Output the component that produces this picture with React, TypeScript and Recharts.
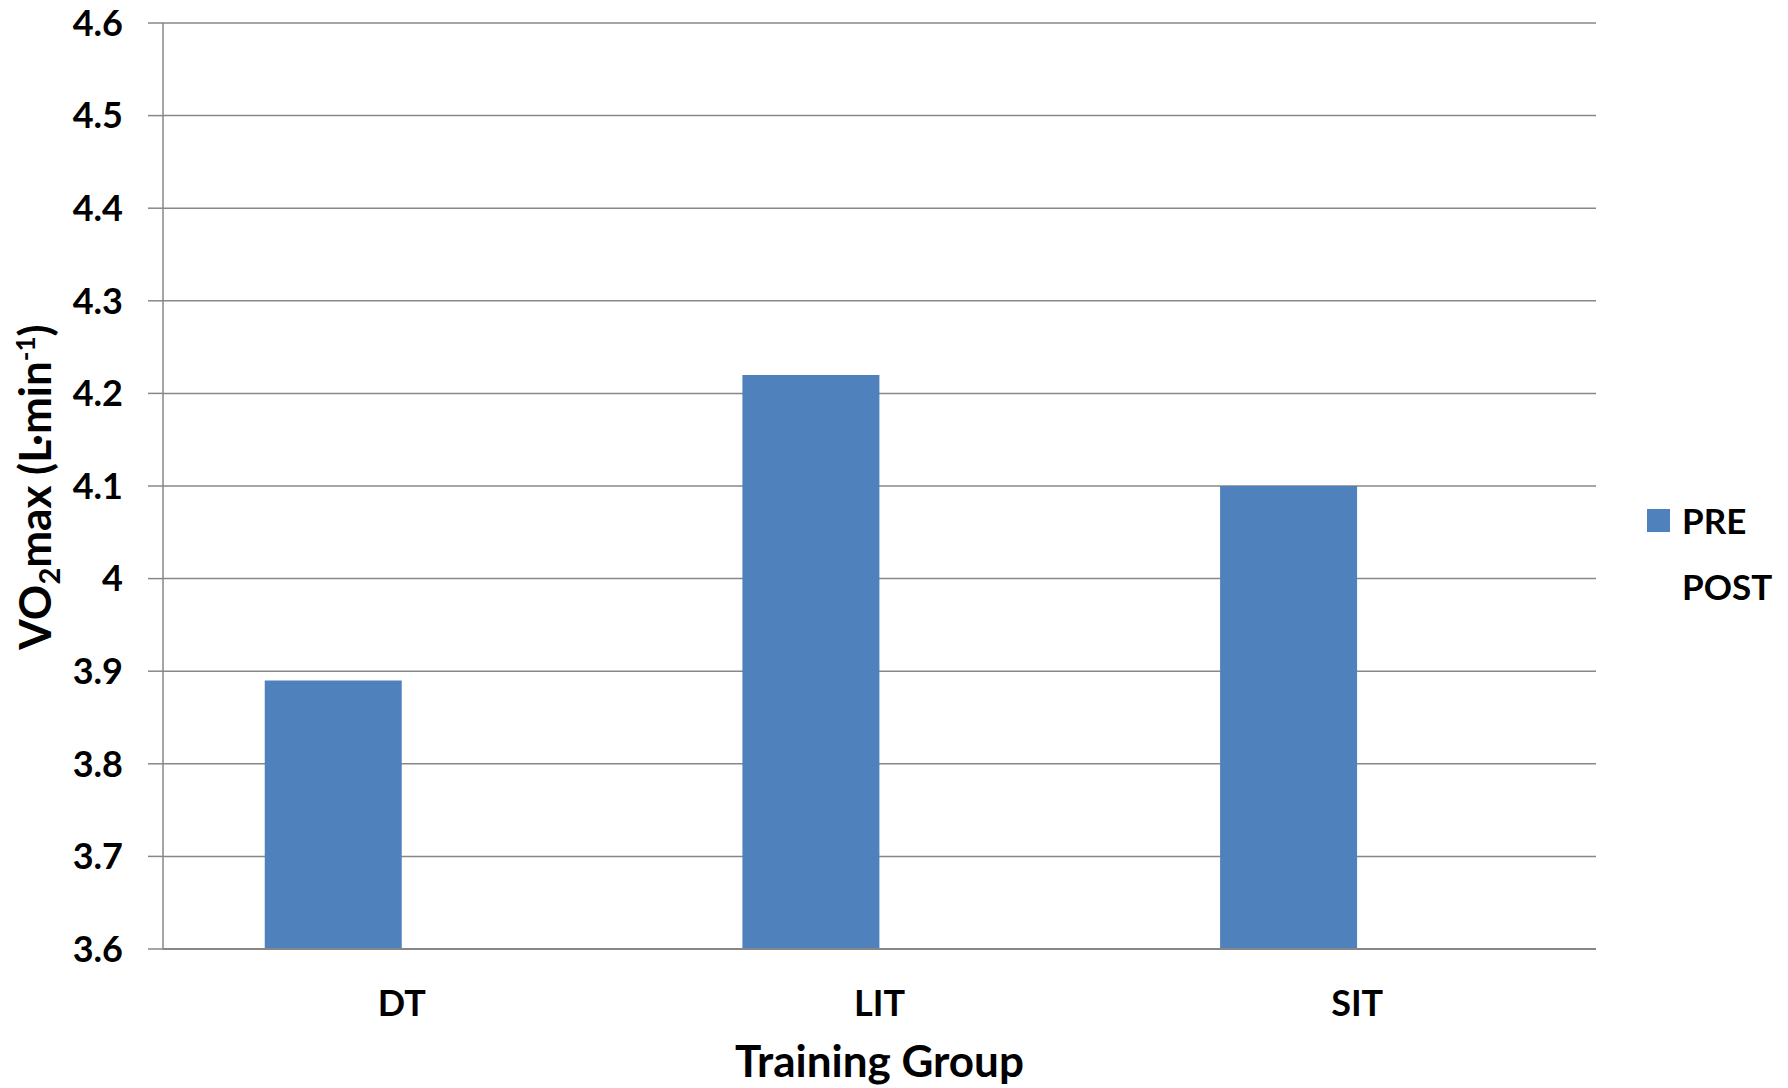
import React from "react";
import { BarChart, Bar, XAxis, YAxis, CartesianGrid, Legend, Label } from "recharts";

// Training groups and VO2max values (L/min)
const groups = ["DT", "LIT", "SIT"];
const preValues = [3.89, 4.22, 4.1];
const postValues: (number | null)[] = [null, null, null];
const seriesNames = ["PRE", "POST"];

const yTicks = [3.6, 3.7, 3.8, 3.9, 4, 4.1, 4.2, 4.3, 4.4, 4.5, 4.6];

const data = groups.map((group, i) => ({
  group,
  PRE: preValues[i],
  POST: postValues[i],
}));

const FONT = "Lato";
const GRID = "#878787";

const tickStyle = { fill: "#000", fontSize: 36, fontWeight: 700, fontFamily: FONT };

function YTitle(props: any) {
  const { viewBox } = props;
  const cx = 51;
  const cy = viewBox.y + viewBox.height / 2 + 1;
  return (
    <text
      transform={`translate(${cx},${cy}) rotate(-90)`}
      textAnchor="middle"
      fontFamily={FONT}
      fontWeight={700}
      fontSize={44}
      fill="#000"
    >
      VO
      <tspan dy={9} fontSize={29}>2</tspan>
      <tspan dy={-9}>max (L·min</tspan>
      <tspan dy={-16} fontSize={26}>-1</tspan>
      <tspan dy={16}>)</tspan>
    </text>
  );
}

function XTitle(props: any) {
  const { viewBox } = props;
  return (
    <text
      x={viewBox.x + viewBox.width / 2}
      y={viewBox.y + 128}
      textAnchor="middle"
      fontFamily={FONT}
      fontWeight={700}
      fontSize={44}
      fill="#000"
    >
      Training Group
    </text>
  );
}

function LegendBox(props: any) {
  const { payload } = props;
  // keep series order PRE, POST
  const items = seriesNames
    .map((name) => payload.find((p: any) => p.value === name))
    .filter(Boolean);
  return (
    <div style={{ fontFamily: FONT, fontWeight: 700, fontSize: 35, color: "#000" }}>
      {items.map((entry: any) => (
        <div key={entry.value} style={{ display: "flex", alignItems: "center", height: 66 }}>
          <span
            style={{
              display: "inline-block",
              width: 23,
              height: 23,
              background: entry.color,
              marginRight: 12,
            }}
          />
          <span>{entry.value}</span>
        </div>
      ))}
    </div>
  );
}

export default function App() {
  return (
    <div style={{ position: "absolute", left: 0, top: 0, width: 1788, height: 1088, background: "#fff" }}>
      <BarChart
        width={1788}
        height={1088}
        data={data}
        margin={{ top: 23, right: 192, bottom: 0, left: 0 }}
        barCategoryGap="21.3%"
        barGap={0}
      >
        <CartesianGrid vertical={false} stroke={GRID} strokeWidth={1.5} />
        <XAxis
          dataKey="group"
          height={139}
          axisLine={{ stroke: GRID, strokeWidth: 2 }}
          tickLine={false}
          tickSize={0}
          tickMargin={41}
          tick={tickStyle}
        >
          <Label content={<XTitle />} />
        </XAxis>
        <YAxis
          width={163}
          domain={[3.6, 4.6]}
          ticks={yTicks}
          interval={0}
          tickFormatter={(v: number) => String(v)}
          axisLine={{ stroke: GRID, strokeWidth: 1.5 }}
          tickLine={{ stroke: GRID, strokeWidth: 1.5 }}
          tickSize={15}
          tickMargin={25}
          tick={tickStyle}
        >
          <Label content={<YTitle />} />
        </YAxis>
        <Legend
          layout="vertical"
          align="center"
          verticalAlign="middle"
          wrapperStyle={{ left: 1647, top: 487 }}
          content={<LegendBox />}
        />
        <Bar dataKey="PRE" fill="#4F81BD" isAnimationActive={false} />
        <Bar dataKey="POST" fill="transparent" isAnimationActive={false} />
      </BarChart>
    </div>
  );
}
